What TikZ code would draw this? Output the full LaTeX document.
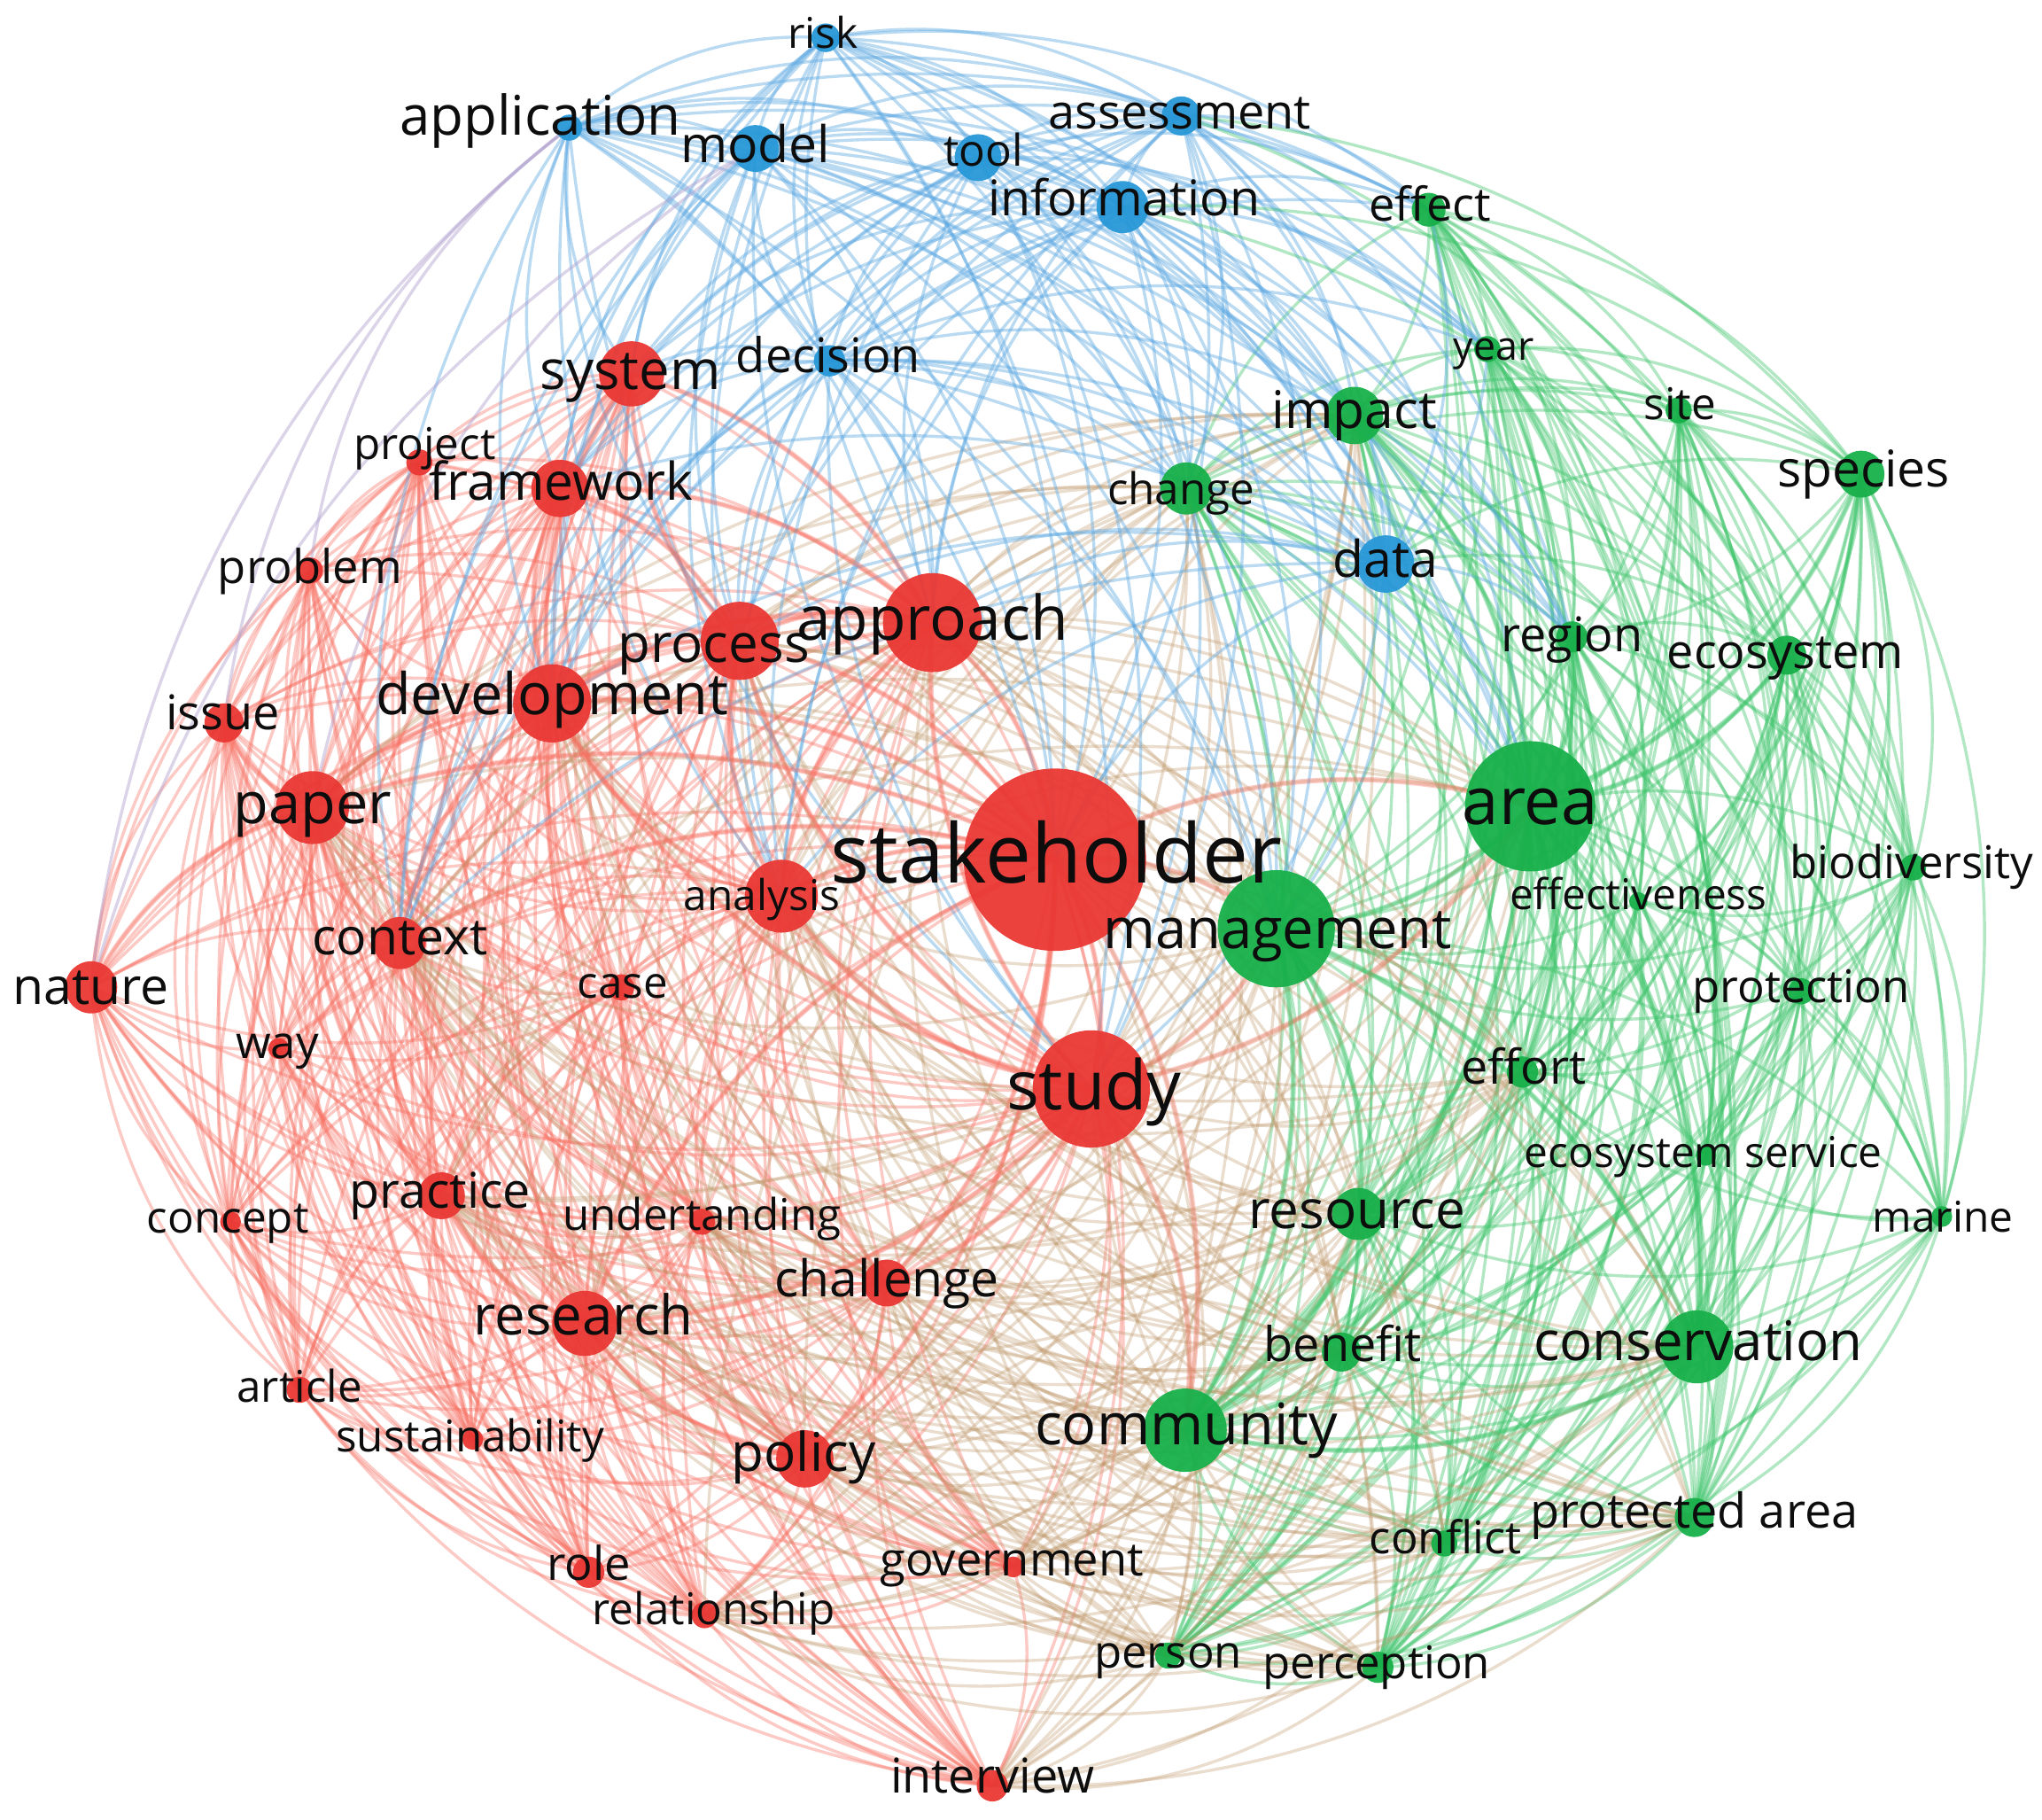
\documentclass[tikz,border=0pt]{standalone}
\usepackage{fontspec}
\setmainfont{Open Sans}
\pgfdeclarelayer{bg}
\pgfdeclarelayer{lab}
\pgfsetlayers{bg,main,lab}
\definecolor{rN}{RGB}{234,56,52}
\definecolor{gN}{RGB}{24,176,74}
\definecolor{bN}{RGB}{40,152,216}
\definecolor{rE}{RGB}{248,110,96}
\definecolor{gE}{RGB}{60,196,106}
\definecolor{bE}{RGB}{92,168,226}
\definecolor{xE}{RGB}{190,150,104}
\definecolor{pE}{RGB}{176,160,206}
\tikzset{
  kw/.style={circle, inner sep=0pt, draw=none, fill opacity=0.95},
  kwlabel/.style={inner sep=0pt, anchor=base, text=black!95},
  eR/.style={draw=rE, line width=2.3pt, draw opacity=0.37},
  eG/.style={draw=gE, line width=2.3pt, draw opacity=0.40},
  eB/.style={draw=bE, line width=2.3pt, draw opacity=0.42},
  eP/.style={draw=pE, line width=2.3pt, draw opacity=0.45},
  eX/.style={draw=xE, line width=2.3pt, draw opacity=0.32},
  eT/.style={draw=rE, line width=4pt, draw opacity=0.34},
}
\newcommand\KW[9]{%
  \expandafter\gdef\csname KX@#1\endcsname{#2}%
  \expandafter\gdef\csname KY@#1\endcsname{#3}%
  \pgfmathsetmacro\kwfs{1.05*#8}%
  \pgfmathsetmacro\kwsh{-0.28*\kwfs}%
  \node[kw, fill=#5, minimum size={2*#4pt}] (#1) at (#2,#3) {};
  \begin{pgfonlayer}{lab}
    \node[kwlabel, font=\fontsize{\kwfs pt}{\kwfs pt}\selectfont, yshift=\kwsh pt] (l#1) at (#6,#7) {#9};
  \end{pgfonlayer}}
\newcommand\ED[3]{%
  \edef\eAx{\csname KX@#2\endcsname}\edef\eAy{\csname KY@#2\endcsname}%
  \edef\eBx{\csname KX@#3\endcsname}\edef\eBy{\csname KY@#3\endcsname}%
  \pgfmathsetmacro\eDx{\eBx-\eAx}%
  \pgfmathsetmacro\eDy{\eBy-\eAy}%
  \pgfmathsetmacro\eVx{790-(\eAx+\eBx)/2}%
  \pgfmathsetmacro\eVy{690-(\eAy+\eBy)/2}%
  \pgfmathsetmacro\eNv{(0-\eDy/100)*(\eVx/100)+(\eDx/100)*(\eVy/100)}%
  \pgfmathsetmacro\eK{\eNv>0 ? -0.14 : 0.14}%
  \pgfmathsetmacro\eCax{\eAx+\eDx/3-\eK*\eDy}%
  \pgfmathsetmacro\eCay{\eAy+\eDy/3+\eK*\eDx}%
  \pgfmathsetmacro\eCbx{\eAx+2*\eDx/3-\eK*\eDy}%
  \pgfmathsetmacro\eCby{\eAy+2*\eDy/3+\eK*\eDx}%
  \path[#1] (#2.center) .. controls (\eCax,\eCay) and (\eCbx,\eCby) .. (#3.center);}
\def\redlist{sh,st,ap,pr,dv,an,sy,fw,pj,pb,is,pa,cx,na,cs,wy,cp,pc,ud,ch,rs,ar,su,po,ro,rl,gv,iv}
\def\greenlist{aa,mg,cm,cn,rc,im,cg,ef,yr,si,sp,rg,ec,bd,ev,prot,eo,es,ma,bn,pd,cf,perc,pers}
\def\bluelist{rk,ac,md,tl,as,inf,dc,dt}
\def\bluetargets{sh,st,ap,pr,dv,sy,fw,an,mg,aa,im,cg,ef,yr,rg,cx}
\def\redhubs{sh,st,ap,pr,dv,an,ch,po,rs,pa,cx,ud,gv,iv,rl,pc}
\def\greenhubs{aa,mg,cm,cn,rc,im,cg,bn,eo,pd,pers,perc,cf}
\begin{document}
\begin{tikzpicture}[x=1pt,y=-1pt]
\useasboundingbox (0,0) rectangle (1568,1397);
% ---------- red cluster
\KW{sh}{810}{660}{70}{rN}{811}{660}{60}{stakeholder}
\KW{st}{838}{836}{45}{rN}{840}{837}{50}{study}
\KW{ap}{716}{478}{38}{rN}{716}{478}{45}{approach}
\KW{pr}{568}{492}{30}{rN}{548}{497}{39}{process}
\KW{dv}{424}{540}{30}{rN}{424}{536}{42}{development}
\KW{an}{600}{688}{28}{rN}{585}{690}{31}{analysis}
\KW{pa}{240}{620}{28}{rN}{240}{620}{42}{paper}
\KW{sy}{485}{287}{25}{rN}{484}{287}{40}{system}
\KW{rs}{449}{1016}{25}{rN}{448}{1013}{40}{research}
\KW{fw}{430}{375}{22}{rN}{431}{373}{38}{framework}
\KW{po}{618}{1120}{22}{rN}{617}{1118}{39}{policy}
\KW{cx}{307}{724}{20}{rN}{307}{722}{37}{context}
\KW{na}{70}{758}{20}{rN}{70}{760}{37}{nature}
\KW{pc}{339}{918}{18}{rN}{338}{917}{36}{practice}
\KW{ch}{681}{985}{18}{rN}{681}{985}{37}{challenge}
\KW{is}{172}{555}{15}{rN}{171}{550}{35}{issue}
\KW{ro}{452}{1207}{12}{rN}{452}{1203}{34}{role}
\KW{iv}{762}{1371}{12}{rN}{762}{1366}{35}{interview}
\KW{pj}{322}{355}{10}{rN}{326}{343}{32}{project}
\KW{pb}{238}{438}{10}{rN}{238}{438}{34}{problem}
\KW{cs}{477}{758}{10}{rN}{478}{757}{32}{case}
\KW{ud}{539}{938}{10}{rN}{539}{935}{32}{undertanding}
\KW{ar}{230}{1067}{10}{rN}{230}{1067}{32}{article}
\KW{rl}{541}{1240}{10}{rN}{548}{1238}{32}{relationship}
\KW{wy}{214}{805}{8}{rN}{213}{803}{33}{way}
\KW{cp}{177}{938}{8}{rN}{175}{937}{32}{concept}
\KW{su}{363}{1105}{8}{rN}{361}{1105}{32}{sustainability}
\KW{gv}{778}{1203}{8}{rN}{777}{1200}{34}{government}
% ---------- green cluster
\KW{aa}{1175}{619}{50}{gN}{1175}{619}{48}{area}
\KW{mg}{980}{713}{45}{gN}{981}{716}{41}{management}
\KW{cm}{910}{1098}{32}{gN}{911}{1097}{42}{community}
\KW{cn}{1303}{1034}{28}{gN}{1304}{1033}{40}{conservation}
\KW{im}{1040}{319}{22}{gN}{1040}{318}{38}{impact}
\KW{rc}{1043}{932}{20}{gN}{1042}{932}{39}{resource}
\KW{cg}{911}{375}{20}{gN}{907}{378}{32}{change}
\KW{sp}{1429}{364}{18}{gN}{1431}{363}{37}{species}
\KW{ec}{1372}{503}{15}{gN}{1371}{503}{35}{ecosystem}
\KW{bn}{1030}{1038}{15}{gN}{1031}{1035}{35}{benefit}
\KW{pd}{1301}{1165}{15}{gN}{1301}{1163}{35}{protected area}
\KW{ef}{1097}{161}{13}{gN}{1098}{160}{34}{effect}
\KW{rg}{1207}{489}{12}{gN}{1207}{490}{35}{region}
\KW{eo}{1169}{823}{12}{gN}{1170}{822}{35}{effort}
\KW{perc}{1058}{1280}{12}{gN}{1057}{1279}{33}{perception}
\KW{yr}{1142}{268}{10}{gN}{1147}{268}{29}{year}
\KW{si}{1289}{315}{10}{gN}{1290}{313}{32}{site}
\KW{bd}{1469}{666}{10}{gN}{1468}{665}{33}{biodiversity}
\KW{prot}{1383}{761}{10}{gN}{1383}{760}{33}{protection}
\KW{cf}{1109}{1185}{10}{gN}{1110}{1183}{33}{conflict}
\KW{pers}{897}{1271}{10}{gN}{897}{1271}{33}{person}
\KW{ev}{1258}{692}{7}{gN}{1258}{689}{31}{effectiveness}
\KW{es}{1310}{887}{8}{gN}{1308}{887}{31}{ecosystem service}
\KW{ma}{1491}{934}{8}{gN}{1492}{937}{31}{marine}
% ---------- blue cluster
\KW{dt}{1064}{433}{22}{bN}{1064}{432}{37}{data}
\KW{inf}{862}{159}{20}{bN}{863}{155}{36}{information}
\KW{md}{580}{114}{18}{bN}{580}{114}{37}{model}
\KW{tl}{751}{121}{18}{bN}{755}{118}{32}{tool}
\KW{as}{907}{89}{15}{bN}{906}{89}{35}{assessment}
\KW{dc}{637}{277}{12}{bN}{636}{276}{35}{decision}
\KW{rk}{634}{29}{11}{bN}{632}{28}{31}{risk}
\KW{ac}{437}{98}{10}{bN}{415}{92}{40}{application}
% ---------- connectors
\begin{pgfonlayer}{bg}
\fill[white] (0,0) rectangle (1568,1397);
\foreach \a [count=\i] in \redlist {
  \foreach \b [count=\j] in \redlist {
    \ifnum\j>\i\relax \ED{eR}{\a}{\b}\fi }}
\foreach \a [count=\i] in \greenlist {
  \foreach \b [count=\j] in \greenlist {
    \ifnum\j>\i\relax \ED{eG}{\a}{\b}\fi }}
\foreach \a in \redhubs {
  \foreach \b in \greenhubs { \ED{eX}{\a}{\b} }}
\foreach \a [count=\i] in \bluelist {
  \foreach \b [count=\j] in \bluelist {
    \ifnum\j>\i\relax \ED{eB}{\a}{\b}\fi }}
\foreach \a in \bluelist {
  \foreach \b in \bluetargets { \ED{eB}{\a}{\b} }}
\foreach \a/\b in {ac/na,ac/is,md/pa,ac/pb,md/na}
  { \ED{eP}{\a}{\b} }
\foreach \a/\b in {as/sp,as/ec,inf/sp,dt/sp,dt/ec,dt/cn,inf/ec}
  { \ED{eG}{\a}{\b} }
\foreach \a/\b in {sh/st,sh/mg,sh/aa,sh/ap,sh/pr,sh/dv,sh/an,sh/cm,sh/rs,sh/pa,
  sh/ch,sh/po,sh/cx,st/mg,st/aa,st/cm,st/ap,st/pr,st/dv,ap/pr,ap/dv,pr/dv,
  dv/pa,pa/is,pa/na,pa/cx,rs/pc,rs/po,an/pr,dv/sy,dv/fw,pr/sy,an/ap,an/dv,
  ap/sy,ap/fw,pr/fw,dv/cx,pa/pc,st/rs,st/ch,st/an}
  { \ED{eT}{\a}{\b} }
\foreach \a/\b in {mg/aa,mg/cm,aa/cn,aa/cm,cm/cn,mg/cn,aa/im,aa/sp,aa/ec,cm/rc,mg/rc,aa/rg,aa/eo}
  { \ED{eG,line width=4pt}{\a}{\b} }
\end{pgfonlayer}
\end{tikzpicture}
\end{document}
